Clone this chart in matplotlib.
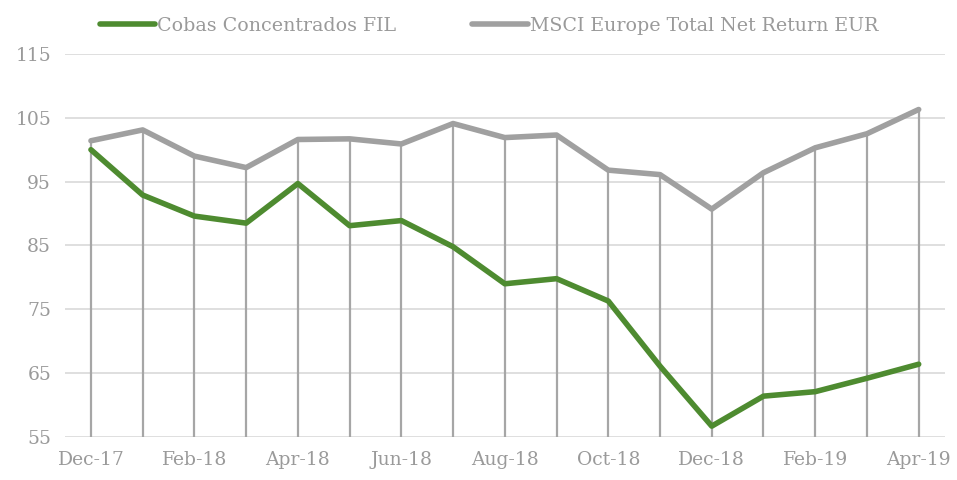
import numpy as np
import matplotlib.pyplot as plt

months = ['Dec-17', 'Jan-18', 'Feb-18', 'Mar-18', 'Apr-18', 'May-18', 'Jun-18',
          'Jul-18', 'Aug-18', 'Sep-18', 'Oct-18', 'Nov-18', 'Dec-18', 'Jan-19',
          'Feb-19', 'Mar-19', 'Apr-19']
cobas = [100.0, 92.9, 89.6, 88.5, 94.7, 88.1, 88.9, 84.8, 79.0, 79.8, 76.3,
         66.1, 56.7, 61.4, 62.1, 64.2, 66.4]
msci = [101.4, 103.1, 99.0, 97.2, 101.6, 101.7, 100.9, 104.1, 101.9, 102.3,
        96.8, 96.1, 90.7, 96.4, 100.3, 102.5, 106.3]
y_ticks = [55, 65, 75, 85, 95, 105, 115]

plt.rcParams['font.family'] = ['DejaVu Serif']
text_color = '#9a9a9a'

fig = plt.figure(figsize=(9.57, 4.8), dpi=100)
ax = fig.add_axes([0.068, 0.0896, 0.919, 0.798])

x = np.arange(len(months))

# drop lines from the top series down to the axis
top = np.maximum(cobas, msci)
ax.vlines(x, y_ticks[0], top, color='#a6a6a6', linewidth=1.6, zorder=2)

ax.plot(x, cobas, color='#4e8b30', linewidth=4, solid_capstyle='round',
        label='Cobas Concentrados FIL', zorder=3)
ax.plot(x, msci, color='#a0a0a0', linewidth=4, solid_capstyle='round',
        label='MSCI Europe Total Net Return EUR', zorder=3)

ax.set_xlim(-0.5, len(months) - 0.5)
ax.set_ylim(55, 115)
ax.set_yticks(y_ticks)
ax.set_xticks(x[::2])
ax.set_xticklabels(months[::2])
ax.grid(axis='y', color='#d9d9d9', linewidth=1.2, zorder=0)
ax.set_axisbelow(True)
for s in ax.spines.values():
    s.set_visible(False)
ax.tick_params(length=0, labelsize=13.5, colors=text_color, pad=10)
ax.tick_params(axis='y', pad=10)

fig.legend(loc='upper center', bbox_to_anchor=(0.511, 1.0), ncol=2,
           frameon=False, fontsize=13.7, labelcolor=text_color,
           handlelength=2.9, handletextpad=0.1, columnspacing=4.0)

fig.savefig('out.png', dpi=100)
